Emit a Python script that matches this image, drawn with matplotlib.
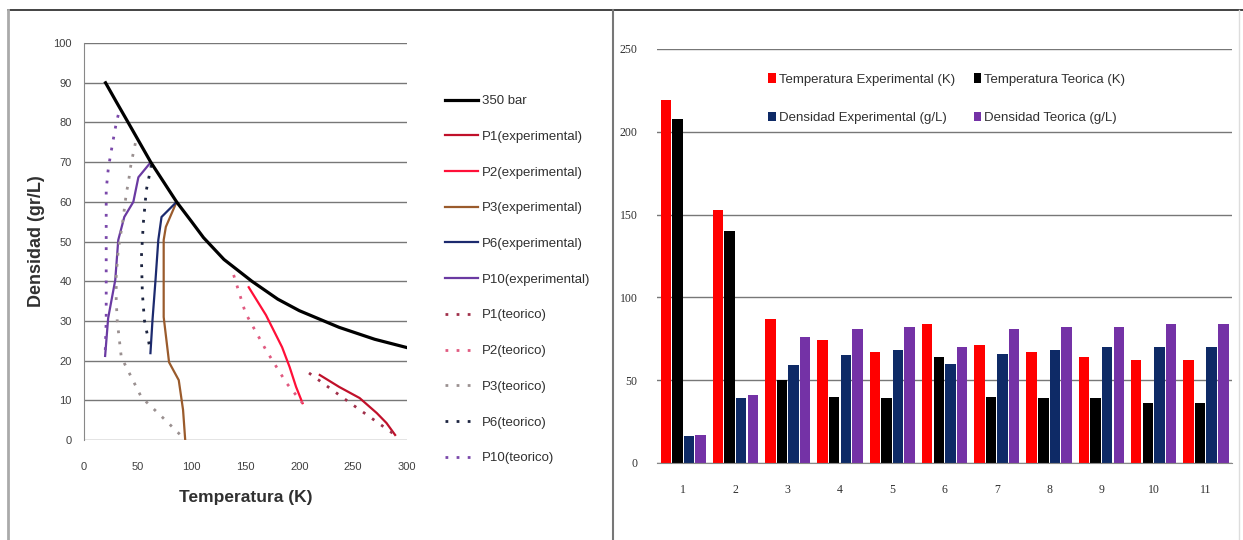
import numpy as np
import matplotlib
matplotlib.use("Agg")
import matplotlib.pyplot as plt
from matplotlib.lines import Line2D

plt.rcParams['font.family'] = ['Liberation Sans', 'DejaVu Sans']

# --- isobara 350 bar y perfiles de despresurizacion ---
temp_350 = [20, 30, 41, 62, 86, 100, 111, 130, 156, 180, 200, 237, 270, 300]
dens_350 = [90, 85.2, 80, 70, 60, 55, 51, 45.5, 40, 35.5, 32.6, 28.4, 25.4, 23.3]

temp_p1_exp = [219, 237, 256, 272, 281, 289]
dens_p1_exp = [16.4, 13.4, 10.6, 6.8, 4.3, 1.3]
temp_p2_exp = [153, 169, 184, 191, 197, 203]
dens_p2_exp = [38.5, 31.5, 23.4, 18.4, 13.4, 9.3]
temp_p3_exp = [86, 76, 74, 74, 74, 79, 88, 92, 94]
dens_p3_exp = [60, 53.7, 50.4, 40.3, 31, 19.6, 15.1, 7.6, 0]
temp_p6_exp = [86, 72, 69, 66.4, 63.6, 61.7]
dens_p6_exp = [60, 56.2, 50.4, 40.3, 30.2, 21.9]
temp_p10_exp = [62, 50.5, 45.8, 37.4, 31.8, 29, 22.4, 19.6]
dens_p10_exp = [70, 66.2, 60, 56.2, 50.4, 40.3, 30.7, 21.2]

temp_p1_teo = [209, 247, 289]
dens_p1_teo = [16.9, 9.4, 1.3]
temp_p2_teo = [139, 150, 169, 188, 203]
dens_p2_teo = [41.6, 32, 22.7, 14.4, 9.3]
temp_p3_teo = [47.7, 45.8, 43.9, 41.1, 39.3, 36.4, 31.8, 29.9, 29.9, 30.8, 34.6, 53.3, 75.7, 94.4]
dens_p3_teo = [74.8, 72.3, 70, 64.7, 62.2, 55.9, 47.9, 41.6, 35.3, 30.2, 20.9, 10.8, 5, 0]
temp_p6_teo = [62.6, 57.9, 55.1, 53.3, 54.2, 56.1, 59.8, 61.7]
dens_p6_teo = [69.3, 63, 54.7, 46.1, 37, 30.2, 25.2, 22.2]
temp_p10_teo = [31.8, 29.9, 27.1, 24.3, 22.4, 20.6, 20.6, 20.6, 20.6, 19.6]
dens_p10_teo = [81.9, 79.8, 75.6, 71.3, 68, 63, 50.4, 37, 30.2, 21.4]

# --- comparacion por punto ---
puntos = ['1', '2', '3', '4', '5', '6', '7', '8', '9', '10', '11']
temp_exp = [219, 153, 87, 74, 67, 84, 71, 67, 64, 62, 62]
temp_teo = [208, 140, 50, 40, 39, 64, 40, 39, 39, 36, 36]
dens_exp = [16, 39, 59, 65, 68, 60, 66, 68, 70, 70, 70]
dens_teo = [17, 41, 76, 81, 82, 70, 81, 82, 82, 84, 84]

fig = plt.figure(figsize=(12.43, 5.4), dpi=100)

# ---------------- left panel ----------------
ax1 = fig.add_axes([0.0676, 0.185, 0.2598, 0.7352])
dot = (0, (1, 3))
ax1.plot(temp_350, dens_350, color='black', lw=2.3, label='350 bar', zorder=5)
ax1.plot(temp_p1_exp, dens_p1_exp, color='#c0102a', lw=1.6, label='P1(experimental)')
ax1.plot(temp_p2_exp, dens_p2_exp, color='#ff1038', lw=1.6, label='P2(experimental)')
ax1.plot(temp_p3_exp, dens_p3_exp, color='#9a5b2c', lw=1.6, label='P3(experimental)')
ax1.plot(temp_p6_exp, dens_p6_exp, color='#1c2a6e', lw=1.6, label='P6(experimental)')
ax1.plot(temp_p10_exp, dens_p10_exp, color='#6a3aa2', lw=1.6, label='P10(experimental)')
ax1.plot(temp_p1_teo, dens_p1_teo, color='#a0304a', lw=2, ls=dot, label='P1(teorico)')
ax1.plot(temp_p2_teo, dens_p2_teo, color='#e05a80', lw=2, ls=dot, label='P2(teorico)')
ax1.plot(temp_p3_teo, dens_p3_teo, color='#9a9090', lw=2, ls=dot, label='P3(teorico)')
ax1.plot(temp_p6_teo, dens_p6_teo, color='#1c2440', lw=2, ls=dot, label='P6(teorico)')
ax1.plot(temp_p10_teo, dens_p10_teo, color='#7a48aa', lw=2, ls=dot, label='P10(teorico)')

ax1.set_xlim(0, 300)
ax1.set_ylim(0, 100)
ax1.set_xticks(range(0, 301, 50))
ax1.set_yticks(range(0, 101, 10))
ax1.yaxis.grid(True, color='#777777', lw=1)
ax1.set_axisbelow(True)
for s in ['top', 'right', 'bottom']:
    ax1.spines[s].set_visible(False)
ax1.spines['left'].set_color('#888888')
ax1.tick_params(length=0, labelsize=8, colors='#404040')
ax1.tick_params(axis='x', pad=16)
ax1.tick_params(axis='y', pad=9)
ax1.set_xlabel('Temperatura (K)', fontsize=12.5, fontweight='bold', color='#303030', labelpad=13)
ax1.set_ylabel('Densidad (gr/L)', fontsize=13, fontweight='bold', color='#303030', labelpad=6)

fig.legend(*ax1.get_legend_handles_labels(), loc='upper left',
           bbox_to_anchor=(0.354, 0.834), frameon=False, fontsize=9.5,
           handlelength=2.5, handletextpad=0.3, labelspacing=1.78,
           labelcolor='#303030', borderaxespad=0)

# ---------------- right panel ----------------
ax2 = fig.add_axes([0.5286, 0.1426, 0.4626, 0.7667])
x = np.arange(1, len(puntos) + 1)
w = 0.2
step = 0.222
b1 = ax2.bar(x - 1.5 * step, temp_exp, w, color='#ff0000', label='Temperatura Experimental (K)')
b2 = ax2.bar(x - 0.5 * step, temp_teo, w, color='#000000', label='Temperatura Teorica (K)')
b3 = ax2.bar(x + 0.5 * step, dens_exp, w, color='#0e2a66', label='Densidad Experimental (g/L)')
b4 = ax2.bar(x + 1.5 * step, dens_teo, w, color='#7432a6', label='Densidad Teorica (g/L)')

ax2.set_xlim(0.5, 11.5)
ax2.set_ylim(0, 250)
ax2.set_xticks(x)
ax2.set_xticklabels(puntos)
ax2.set_yticks(range(0, 251, 50))
ax2.yaxis.grid(True, color='#777777', lw=1)
ax2.set_axisbelow(True)
for s in ['top', 'right', 'left']:
    ax2.spines[s].set_visible(False)
ax2.spines['bottom'].set_color('#888888')
ax2.tick_params(length=0, labelsize=8.5, colors='#303030')
ax2.tick_params(axis='x', pad=15)
ax2.tick_params(axis='y', pad=14)
for t in ax2.get_xticklabels() + ax2.get_yticklabels():
    t.set_family('Liberation Serif')

ax2.legend([b1, b3, b2, b4],
           [b1.get_label(), b3.get_label(), b2.get_label(), b4.get_label()],
           ncol=2, loc='upper left', bbox_to_anchor=(0.173, 0.97), frameon=False,
           fontsize=9.5, handlelength=0.6, handleheight=0.7, handletextpad=0.2,
           labelspacing=2.0, columnspacing=1.4, labelcolor='#303030')

# panel frames
fig.add_artist(Line2D([8 / 1243, 1], [1 - 10 / 540, 1 - 10 / 540], color='#222222', lw=1.2))
fig.add_artist(Line2D([8 / 1243, 8 / 1243], [0, 1 - 10 / 540], color='#aaaaaa', lw=2))
fig.add_artist(Line2D([613 / 1243, 613 / 1243], [0, 1 - 10 / 540], color='#777777', lw=1.5))
fig.add_artist(Line2D([1239 / 1243, 1239 / 1243], [0, 1 - 10 / 540], color='#dddddd', lw=1))

fig.savefig('out.png', dpi=100)
